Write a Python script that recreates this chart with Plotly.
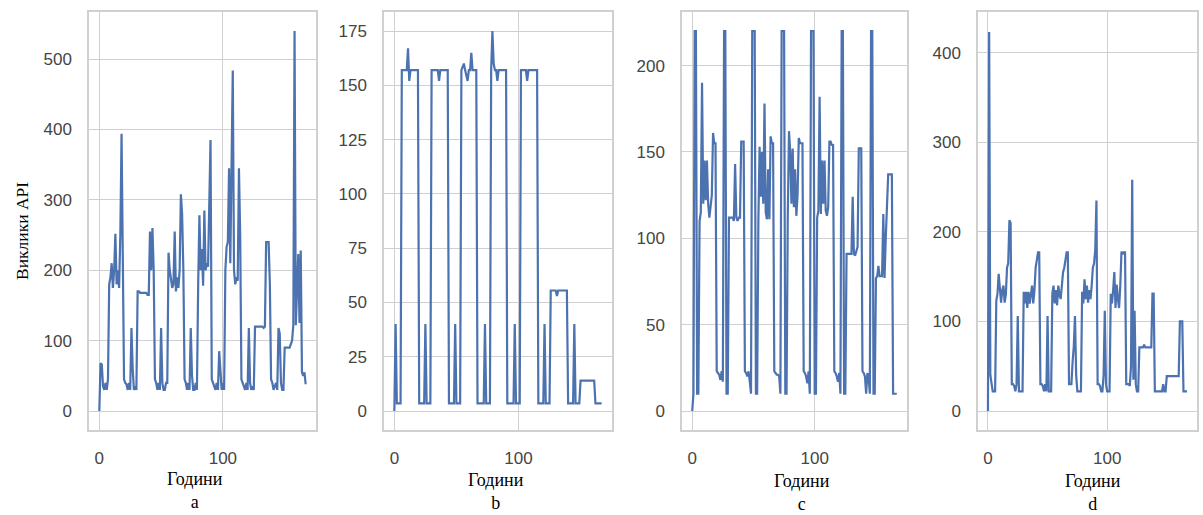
import plotly.graph_objects as go

hours = list(range(168))

calls_a = [
    0, 68, 66, 35, 30, 40, 30, 45, 180, 190, 210, 175, 200, 252, 180, 200, 175, 250, 394, 220, 45, 40, 38, 30,
    40, 30, 118, 60, 30, 35, 30, 170, 170, 168, 168, 168, 168, 168, 168, 165, 165, 255, 200, 260, 200, 45, 40, 30,
    40, 30, 118, 40, 30, 30, 40, 40, 225, 200, 185, 175, 180, 255, 170, 190, 175, 200, 308, 280, 200, 45, 40, 30,
    40, 30, 118, 50, 30, 30, 40, 30, 180, 278, 200, 230, 178, 285, 200, 210, 205, 300, 385, 45, 40, 35, 30, 40,
    30, 85, 60, 30, 40, 30, 200, 233, 240, 345, 210, 345, 484, 200, 180, 190, 185, 345, 250, 45, 40, 35, 30, 40,
    30, 118, 40, 30, 35, 30, 120, 120, 120, 120, 120, 120, 120, 118, 120, 240, 240, 240, 180, 45, 40, 30, 35, 40,
    30, 118, 110, 40, 30, 30, 90, 90, 90, 90, 90, 95, 100, 122, 540, 122, 180, 223, 125, 228, 55, 50, 55, 38,
]

calls_b = [
    0, 40, 3.5, 3.5, 3.5, 3.5, 157, 157, 157, 157, 157, 167, 152, 157, 157, 157, 157, 157, 157, 157, 3.5, 3.5, 3.5, 3.5,
    3.5, 40, 3.5, 3.5, 3.5, 3.5, 157, 157, 157, 157, 157, 157, 152, 157, 157, 157, 157, 157, 157, 157, 3.5, 3.5, 3.5, 3.5,
    3.5, 40, 3.5, 3.5, 3.5, 3.5, 157, 159, 160, 157, 155, 152, 157, 157, 165, 157, 157, 157, 157, 3.5, 3.5, 3.5, 3.5, 3.5,
    3.5, 40, 3.5, 3.5, 3.5, 3.5, 157, 175, 160, 157, 157, 152, 157, 157, 157, 157, 157, 157, 157, 3.5, 3.5, 3.5, 3.5, 3.5,
    3.5, 40, 3.5, 3.5, 3.5, 3.5, 157, 157, 157, 157, 157, 152, 157, 157, 157, 157, 157, 157, 157, 157, 3.5, 3.5, 3.5, 3.5,
    3.5, 40, 3.5, 3.5, 3.5, 3.5, 55.5, 55.5, 55.5, 55.5, 55.5, 53, 55.5, 55.5, 55.5, 55.5, 55.5, 55.5, 55.5, 55.5, 3.5, 3.5, 3.5, 3.5,
    3.5, 40, 3.5, 3.5, 3.5, 3.5, 14, 14, 14, 14, 14, 14, 14, 14, 14, 14, 14, 14, 3.5, 3.5, 3.5, 3.5, 3.5, 3.5,
]

calls_c = [
    0, 10, 220, 220, 10, 10, 110, 115, 190, 120, 145, 122, 145, 120, 112, 118, 125, 161, 155, 155, 23, 22, 21, 18,
    23, 17, 220, 220, 10, 10, 112, 112, 112, 112, 110, 143, 112, 110, 112, 112, 156, 156, 156, 23, 22, 20, 23, 17,
    10, 220, 220, 220, 10, 10, 110, 153, 124, 150, 120, 178, 115, 111, 140, 111, 159, 155, 155, 23, 22, 21, 21, 20,
    10, 220, 220, 220, 10, 10, 112, 162, 150, 120, 152, 118, 140, 113, 125, 158, 155, 155, 155, 23, 22, 20, 16, 23,
    10, 220, 220, 220, 10, 10, 112, 116, 182, 114, 145, 120, 145, 116, 113, 118, 156, 156, 154, 154, 23, 22, 20, 17,
    22, 10, 220, 220, 10, 10, 91, 91, 91, 91, 91, 124, 91, 90, 92, 95, 152, 152, 152, 23, 22, 20, 10, 22,
    20, 10, 220, 220, 10, 10, 77, 78, 84, 78, 78, 78, 114, 77, 100, 115, 137, 137, 137, 137, 10, 10, 10, 10,
]

calls_d = [
    0, 423, 40, 30, 22, 22, 22, 123, 131, 153, 130, 121, 135, 140, 121, 130, 160, 165, 213, 210, 30, 30, 28, 22,
    30, 106, 22, 22, 22, 22, 133, 120, 133, 115, 133, 120, 130, 140, 120, 135, 160, 170, 177, 177, 30, 30, 28, 22,
    30, 22, 106, 22, 22, 22, 131, 140, 120, 135, 118, 140, 130, 125, 140, 155, 160, 170, 177, 177, 30, 30, 30, 55,
    72, 106, 40, 22, 22, 22, 22, 133, 120, 147, 125, 140, 121, 135, 125, 140, 160, 165, 180, 235, 30, 30, 28, 22,
    22, 40, 112, 30, 22, 22, 22, 131, 120, 135, 155, 115, 141, 125, 115, 140, 178, 175, 177, 177, 30, 30, 30, 28,
    50, 258, 35, 112, 30, 22, 22, 71, 71, 71, 71, 74, 71, 71, 71, 71, 71, 71, 131, 131, 22, 22, 22, 22,
    22, 22, 22, 30, 22, 22, 39, 39, 39, 39, 39, 39, 39, 39, 39, 39, 39, 100, 100, 100, 22, 22, 22, 22,
]

series = [calls_a, calls_b, calls_c, calls_d]
y_ranges = [[-27, 567], [-8.75, 183.75], [-11, 231], [-21.2, 445.4]]
y_ticks = [[0, 100, 200, 300, 400, 500], [0, 25, 50, 75, 100, 125, 150, 175],
           [0, 50, 100, 150, 200], [0, 100, 200, 300, 400]]
panel_px = [(89, 316), (384, 612), (682, 907), (978, 1197)]
panel_letters = ["a", "b", "c", "d"]
xlab_pos = [(195, 490), (496, 491), (802, 492.5), (1093, 492.5)]

W, H = 1203, 515
fig = go.Figure()
grid = "#d0d0d0"
tickfont = dict(family="Liberation Sans, Arial, sans-serif", size=17, color="#454545")
serif = "Liberation Serif, Times New Roman, serif"

for i, ys in enumerate(series):
    n = "" if i == 0 else str(i + 1)
    fig.add_trace(go.Scatter(x=hours, y=ys, mode="lines",
                             line=dict(color="#4c72b0", width=2.2),
                             xaxis="x" + n, yaxis="y" + n, showlegend=False))
    x0, x1 = panel_px[i]
    fig.layout["xaxis" + n] = dict(
        domain=[x0 / W, x1 / W], anchor="y" + n, range=[-8.35, 175.35],
        tickvals=[0, 100], showgrid=True, gridcolor=grid, gridwidth=1.2,
        showline=True, mirror=True, linecolor=grid, linewidth=1.5, zeroline=False,
        ticks="outside", ticklen=12, tickcolor="rgba(0,0,0,0)", tickfont=tickfont)
    fig.layout["yaxis" + n] = dict(
        domain=[1 - 430 / H, 1 - 12 / H], anchor="x" + n, range=y_ranges[i],
        tickvals=y_ticks[i], showgrid=True, gridcolor=grid, gridwidth=1.2,
        showline=True, mirror=True, linecolor=grid, linewidth=1.5, zeroline=False,
        ticks="outside", ticklen=12, tickcolor="rgba(0,0,0,0)", tickfont=tickfont)
    cx, cy = xlab_pos[i]
    fig.add_annotation(x=cx / W, y=1 - cy / H, xref="paper", yref="paper",
                       text="Години<br>" + panel_letters[i], showarrow=False,
                       xanchor="center", yanchor="middle", align="center", borderpad=0,
                       font=dict(family=serif, size=18, color="#000000"))

fig.add_annotation(x=22 / W, y=1 - 231 / H, xref="paper", yref="paper",
                   text="Виклики API", textangle=-90, showarrow=False,
                   xanchor="center", yanchor="middle",
                   font=dict(family=serif, size=17.5, color="#000000"))

fig.update_layout(width=W, height=H, margin=dict(l=0, r=0, t=0, b=0),
                  paper_bgcolor="white", plot_bgcolor="white")
fig.write_html("out.html", config={"displayModeBar": False},
               post_script="document.body.style.margin='0';document.body.style.overflow='hidden';")
